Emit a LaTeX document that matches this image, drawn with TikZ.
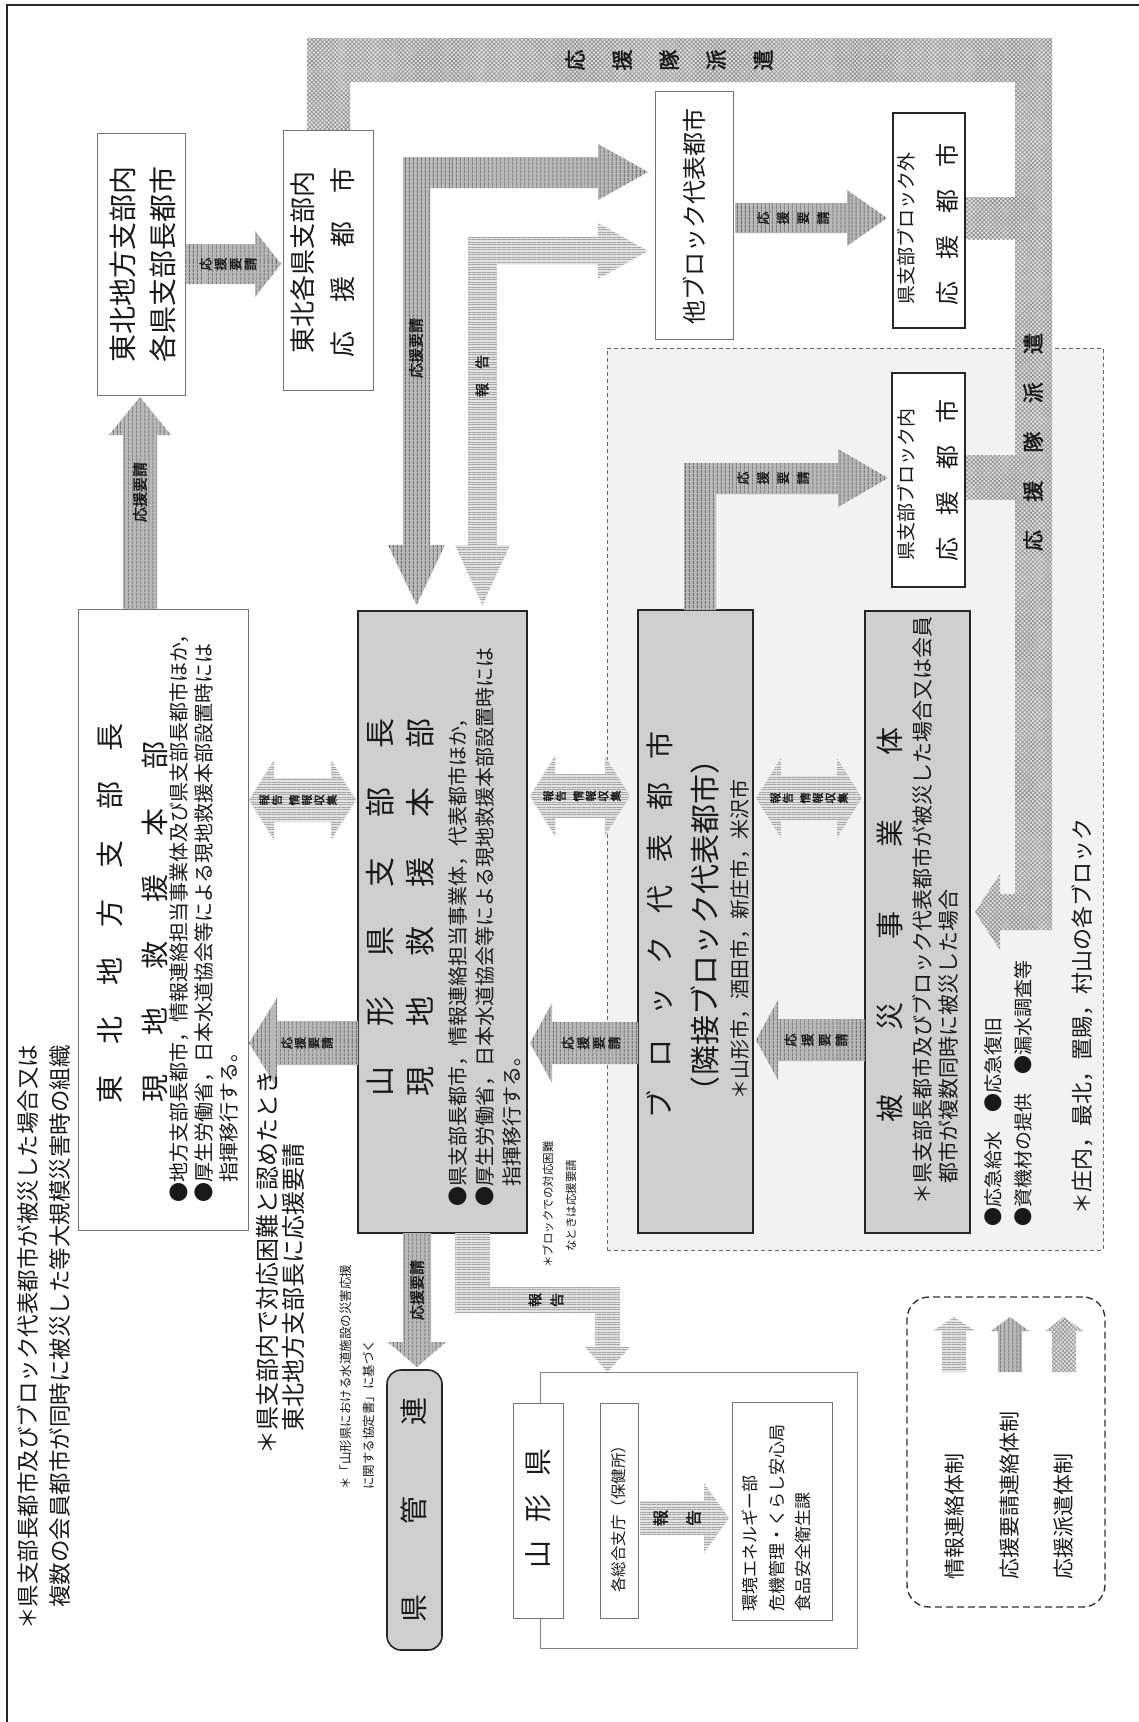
\documentclass[tikz,border=0pt]{standalone}
\usepackage{fontspec}
\setmainfont{Noto Sans CJK JP}
\newfontfamily\jpb{Noto Sans CJK JP}[FakeBold=2]
\usetikzlibrary{patterns.meta,fit}
\newcommand\fsz[1]{\fontsize{#1}{#1}\selectfont}
\newcommand\spr[2]{\makebox[#1pt][s]{#2}}
\newcommand\hf{\hfill{}}
% horizontal block arrow: style, xtail, xtip, yc, bodyhalf, headhalf, headlen
\newcommand\harr[7]{%
  \pgfmathsetmacro\hbx{#3-ifthenelse(#3>#2,1,-1)*#7}%
  \path[#1] (#2,#4-#5) -- (\hbx,#4-#5) -- (\hbx,#4-#6) -- (#3,#4) -- (\hbx,#4+#6) -- (\hbx,#4+#5) -- (#2,#4+#5) -- cycle;}
% vertical block arrow: style, ytail, ytip, xc, bodyhalf, headhalf, headlen
\newcommand\varr[7]{%
  \pgfmathsetmacro\hby{#3-ifthenelse(#3>#2,1,-1)*#7}%
  \path[#1] (#4-#5,#2) -- (#4-#5,\hby) -- (#4-#6,\hby) -- (#4,#3) -- (#4+#6,\hby) -- (#4+#5,\hby) -- (#4+#5,#2) -- cycle;}
% double horizontal block arrow: style, x1, x2, yc, bodyhalf, headhalf, headlen
\newcommand\hdarr[7]{%
  \path[#1] (#2,#4) -- (#2+#7,#4-#6) -- (#2+#7,#4-#5) -- (#3-#7,#4-#5) -- (#3-#7,#4-#6) -- (#3,#4) -- (#3-#7,#4+#6) -- (#3-#7,#4+#5) -- (#2+#7,#4+#5) -- (#2+#7,#4+#6) -- cycle;}
\tikzset{
  wbox/.style={draw=black!55, line width=1pt, fill=white, inner sep=0pt},
  tbox/.style={draw=black!85, line width=1.8pt, fill=white, inner sep=0pt},
  gbox/.style={draw=black!85, line width=1.6pt, fill=gray!38, inner sep=0pt},
  reqa/.style={fill=gray!55, postaction={pattern={Lines[angle=90,distance=4pt,line width=1.3pt]}, pattern color=black!60}},
  infoa/.style={fill=gray!22, postaction={pattern={Lines[angle=0,distance=2.5pt,line width=0.6pt]}, pattern color=black!35}},
  dispa/.style={fill=gray!25, postaction={pattern={Hatch[angle=45,distance=3pt,line width=0.6pt]}, pattern color=black!45}},
  rt/.style={rotate=90, inner sep=0pt, text=black!90},
  lbl/.style={rotate=90, inner sep=0pt, align=center, text=black!90},
}
\begin{document}
\begin{tikzpicture}[x=1pt,y=-1pt]
\useasboundingbox (0,0) rectangle (1139,1722);
\fill[white] (0,0) rectangle (1139,1722);
\draw[line width=2pt,black!85] (7,1722) -- (7,5) -- (1139,5);

% block area
\node[draw=black!60, dash pattern=on 4pt off 3pt, line width=0.8pt, fill=gray!10, inner sep=0pt, fit={(607,348)(1103,1250)}] (blkArea) {};

% dispatch band
\path[dispa] (307,130) -- (307,38) -- (1052,38) -- (1052,930) -- (1000,930) -- (1000,950) -- (975,912) -- (1000,874) -- (1000,894) -- (1015,894) -- (1015,82) -- (350,82) -- (350,130) -- cycle;
\path[dispa] (965,197) rectangle (1015,239);
\path[dispa] (965,455) rectangle (1015,499);

% boxes
\node[wbox, fit={(97,133)(185,395)}] (cityA) {};
\node[wbox, fit={(283,130)(373,390)}] (supB) {};
\node[wbox, fit={(655,91)(733,339)}] (otherRep) {};
\node[tbox, fit={(893,113)(965,328)}] (outSup) {};
\node[tbox, fit={(892,373)(965,587)}] (inSup) {};
\node[wbox, fit={(78,609)(248,1230)}] (tohokuHQ) {};
\node[gbox, fit={(358,611)(527,1233)}] (yamaHQ) {};
\node[gbox, fit={(638,610)(753,1233)}] (blkRep) {};
\node[gbox, fit={(865,611)(970,1233)}] (victim) {};
\node[gbox, rounded corners=14pt, fit={(387,1370)(442,1650)}] (kankan) {};
\node[draw=black!50, line width=0.8pt, inner sep=0pt, fit={(540,1372)(857,1648)}] (pref) {};
\node[wbox, fit={(513,1403)(563,1618)}] (prefName) {};
\node[wbox, fit={(600,1403)(638,1618)}] (office) {};
\node[wbox, fit={(732,1402)(832,1620)}] (foodSec) {};
\node[draw=black!80, dash pattern=on 7pt off 4pt, line width=1.4pt, rounded corners=22pt, inner sep=0pt, fit={(907,1297)(1105,1607)}] (legend) {};

% arrows
\harr{reqa}{185}{281}{264}{20}{33}{26}
\varr{reqa}{609}{397}{140}{17}{31}{38}
\path[reqa] (403,545) -- (388,545) -- (416.5,605) -- (445,545) -- (430,545) -- (430,188) -- (598,188) -- (598,200) -- (648,172) -- (598,144) -- (598,157) -- (403,157) -- cycle;
\path[infoa] (468,545) -- (455,545) -- (482.5,605) -- (510,545) -- (497,545) -- (497,264) -- (598,264) -- (598,279) -- (648,251) -- (598,223) -- (598,237) -- (468,237) -- cycle;
\harr{reqa}{735}{887}{218}{15}{28}{40}
\path[reqa] (684,610) -- (684,463) -- (838,463) -- (838,449) -- (888,478) -- (838,507) -- (838,494) -- (716,494) -- (716,610) -- cycle;
\harr{reqa}{358}{249}{1043}{22}{45}{28}
\hdarr{infoa}{249}{356}{800}{22}{40}{25}
\harr{reqa}{638}{530}{1043}{21}{40}{22}
\hdarr{infoa}{530}{630}{796}{22}{40}{25}
\harr{reqa}{865}{756}{1040}{21}{40}{22}
\hdarr{infoa}{756}{862}{798}{22}{40}{25}
\varr{reqa}{1233}{1367}{417}{14}{29}{25}
\path[infoa] (455,1233) -- (455,1313) -- (595,1313) -- (595,1347) -- (585,1347) -- (607.5,1372) -- (630,1347) -- (620,1347) -- (620,1287) -- (490,1287) -- (490,1233) -- cycle;
\harr{infoa}{640}{729}{1518}{17}{35}{25}
\varr{infoa}{1372}{1317}{954}{12}{21}{14}
\varr{reqa}{1372}{1317}{1010}{12}{19}{14}
\varr{dispa}{1372}{1317}{1064}{12}{19}{14}

% arrow labels
\node[lbl, font=\jpb\fontsize{13}{15}\selectfont] (l1) at (228,264) {応\\援\\要\\請};
\node[rt, font=\jpb\fsz{15}] (l2) at (140,492) {応援要請};
\node[rt, font=\jpb\fsz{15}] (l3) at (416,348) {応援要請};
\node[rt, font=\jpb\fsz{14}] (l4) at (482,376) {報\hspace{14pt}告};
\node[lbl, font=\jpb\fontsize{13}{20}\selectfont] (l5) at (793,218) {応\\援\\要\\請};
\node[lbl, font=\jpb\fontsize{13}{20}\selectfont] (l6) at (773,478) {応\\援\\要\\請};
\node[lbl, font=\jpb\fontsize{12}{13.5}\selectfont] (l7) at (307,1043) {応\\援\\要\\請};
\node[lbl, font=\jpb\fontsize{13}{15.5}\selectfont] (l8) at (591,1043) {応\\援\\要\\請};
\node[lbl, font=\jpb\fontsize{13}{17}\selectfont] (l9) at (816,1040) {応\\援\\要\\請};
\node[lbl, font=\jpb\fontsize{11}{12.5}\selectfont] (i1) at (298,800) {報\\告\\[5pt]情\\報\\収\\集};
\node[lbl, font=\jpb\fontsize{11}{12.5}\selectfont] (i2) at (582,796) {報\\告\\[5pt]情\\報\\収\\集};
\node[lbl, font=\jpb\fontsize{11}{12.5}\selectfont] (i3) at (809,798) {報\\告\\[5pt]情\\報\\収\\集};
\node[rt, font=\jpb\fsz{15}] (l10) at (417,1290) {応援要請};
\node[lbl, font=\jpb\fontsize{14}{22}\selectfont] (l11) at (546,1300) {報\\告};
\node[lbl, font=\jpb\fontsize{16}{33}\selectfont] (l12) at (677,1518) {報\\告};
\node[lbl, font=\jpb\fontsize{21}{47}\selectfont] (b1) at (669,60) {応\\援\\隊\\派\\遣};
\node[rt, font=\jpb\fsz{21}] (b2) at (1033,442) {\spr{218}{応\hf 援\hf 隊\hf 派\hf 遣}};

% box texts
\node[rt, font=\fsz{28}] (tA1) at (123,264) {東北地方支部内};
\node[rt, font=\fsz{28}] (tA2) at (163,264) {各県支部長都市};
\node[rt, font=\fsz{26}] (tB1) at (303,262) {東北各県支部内};
\node[rt, font=\fsz{26}] (tB2) at (343,262) {\spr{190}{応\hf 援\hf 都\hf 市}};
\node[rt, font=\fsz{24}] (tO) at (694,216) {他ブロック代表都市};
\node[rt, font=\fsz{19}] (tOS1) at (906,228) {県支部ブロック外};
\node[rt, font=\fsz{24}] (tOS2) at (947,224) {\spr{162}{応\hf 援\hf 都\hf 市}};
\node[rt, font=\fsz{19}] (tIS1) at (906,484) {県支部ブロック内};
\node[rt, font=\fsz{24}] (tIS2) at (947,480) {\spr{162}{応\hf 援\hf 都\hf 市}};

\node[rt, font=\fsz{28}] (tT1) at (110,913) {\spr{380}{東\hf 北\hf 地\hf 方\hf 支\hf 部\hf 長}};
\node[rt, font=\fsz{28}] (tT2) at (155,922) {\spr{361}{現\hf 地\hf 救\hf 援\hf 本\hf 部}};
\node[rt, font=\fsz{20}, anchor=west] (tT3) at (179,1203) {●地方支部長都市，情報連絡担当事業体及び県支部長都市ほか，};
\node[rt, font=\fsz{20}, anchor=west] (tT4) at (204,1203) {●厚生労働省，日本水道協会等による現地救援本部設置時には};
\node[rt, font=\fsz{20}, anchor=west] (tT5) at (229,1183) {指揮移行する。};

\node[rt, font=\fsz{30}] (tY1) at (380,907) {\spr{378}{山\hf 形\hf 県\hf 支\hf 部\hf 長}};
\node[rt, font=\fsz{30}] (tY2) at (420,907) {\spr{378}{現\hf 地\hf 救\hf 援\hf 本\hf 部}};
\node[rt, font=\fsz{20}, anchor=west] (tY3) at (458,1207) {●県支部長都市，情報連絡担当事業体，代表都市ほか，};
\node[rt, font=\fsz{20}, anchor=west] (tY4) at (485,1207) {●厚生労働省，日本水道協会等による現地救援本部設置時には};
\node[rt, font=\fsz{20}, anchor=west] (tY5) at (512,1187) {指揮移行する。};

\node[rt, font=\fsz{28}] (tK1) at (660,925) {\spr{387}{ブ\hf ロ\hf ッ\hf ク\hf 代\hf 表\hf 都\hf 市}};
\node[rt, font=\fsz{30}] (tK2) at (705,925) {\spr{362}{（\hf 隣\hf 接\hf ブ\hf ロ\hf ッ\hf ク\hf 代\hf 表\hf 都\hf 市\hf ）}};
\node[rt, font=\fsz{20}, anchor=west] (tK3) at (740,1100) {＊山形市，酒田市，新庄市，米沢市};

\node[rt, font=\fsz{28}] (tH1) at (890,925) {\spr{395}{被\hf 災\hf 事\hf 業\hf 体}};
\node[rt, font=\fsz{21}, anchor=west] (tH2) at (922,1205) {＊県支部長都市及びブロック代表都市が被災した場合又は会員};
\node[rt, font=\fsz{21}, anchor=west] (tH3) at (948,1184) {都市が複数同時に被災した場合};
\node[rt, font=\fsz{19}, anchor=west] (tH4) at (993,1227) {●応急給水　●応急復旧};
\node[rt, font=\fsz{19}, anchor=west] (tH5) at (1023,1227) {●資機材の提供　●漏水調査等};
\node[rt, font=\fsz{22}, anchor=west] (tH6) at (1082,1215) {＊庄内，最北，置賜，村山の各ブロック};

\node[rt, font=\fsz{28}] (tKK) at (414,1510) {\spr{225}{県\hf 管\hf 連}};
\node[rt, font=\fsz{28}] (tP1) at (538,1508) {\spr{120}{山\hf 形\hf 県}};
\node[rt, font=\fsz{15.5}] (tP2) at (619,1515) {各総合支庁（保健所）};
\node[rt, font=\fsz{17}, anchor=west] (tP3) at (750,1612) {環境エネルギー部};
\node[rt, font=\fsz{17}, anchor=west] (tP4) at (777,1612) {危機管理・くらし安心局};
\node[rt, font=\fsz{17}, anchor=west] (tP5) at (803,1612) {食品安全衛生課};

% legend
\node[rt, font=\fsz{21}, anchor=west] (g1) at (955,1580) {情報連絡体制};
\node[rt, font=\fsz{21}, anchor=west] (g2) at (1010,1580) {応援要請連絡体制};
\node[rt, font=\fsz{21}, anchor=west] (g3) at (1064,1580) {応援派遣体制};

% notes
\node[rt, font=\fsz{22.5}, anchor=west] (n1) at (28,1630) {＊県支部長都市及びブロック代表都市が被災した場合又は};
\node[rt, font=\fsz{22.5}, anchor=west] (n2) at (60,1608) {複数の会員都市が同時に被災した等大規模災害時の組織};
\node[rt, font=\fsz{24}, anchor=west] (n3) at (267,1455) {＊県支部内で対応困難と認めたとき};
\node[rt, font=\fsz{24}, anchor=west] (n4) at (293,1432) {東北地方支部長に応援要請};
\node[rt, font=\fsz{12.5}, anchor=west] (n5) at (346,1490) {＊「山形県における水道施設の災害応援};
\node[rt, font=\fsz{12.5}, anchor=west] (n6) at (369,1490) {に関する協定書」に基づく};
\node[rt, font=\fsz{11.5}, anchor=west] (n7) at (548,1268) {＊ブロックでの対応困難};
\node[rt, font=\fsz{11.5}, anchor=west] (n8) at (571,1252) {なときは応援要請};
\end{tikzpicture}
\end{document}
